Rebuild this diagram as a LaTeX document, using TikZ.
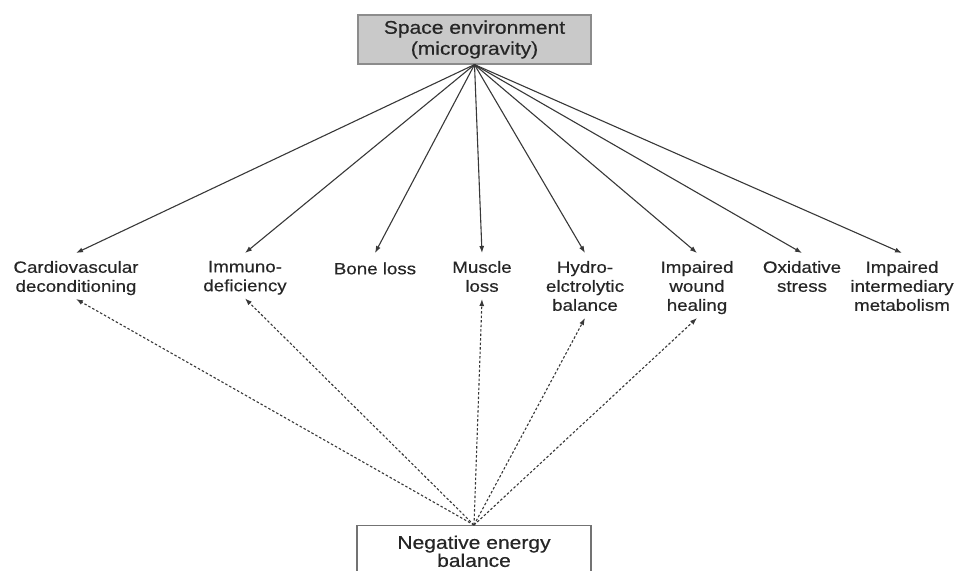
\documentclass[tikz,border=0pt]{standalone}
\usepackage{fontspec}
\setmainfont{Liberation Sans}[FakeStretch=1.15,FakeBold=0.5]
\usetikzlibrary{arrows.meta}
\tikzset{
  lab/.style={anchor=north, align=center, inner sep=0pt, outer sep=0pt, text=black!85,
    font=\fontsize{16.3}{19}\selectfont,
    execute at begin node=\strut, execute at end node=\strut},
  topbox/.style={draw=black!45, fill=black!21, line width=1.2pt, minimum width=233pt,
    minimum height=49pt, align=center, inner sep=0pt, text=black!85,
    font=\fontsize{18.3}{21}\selectfont},
  botbox/.style={draw=black!55, line width=1.1pt, minimum width=234pt, anchor=north,
    align=center, inner xsep=0pt, inner ysep=10pt, text=black!85,
    font=\fontsize{18.3}{17}\selectfont},
  solidarr/.style={draw=black!78, line width=1.1pt, -{Latex[length=7pt,width=5pt]}},
  dasharr/.style={draw=black!78, line width=1.1pt, dash pattern=on 2.5pt off 2pt,
    -{Latex[length=7pt,width=5pt]}}
}
\begin{document}
\begin{tikzpicture}[x=1pt,y=-1pt]
\useasboundingbox (0,0) rectangle (955,570);
\node[topbox] (top) at (474.5,39.5) {Space environment\\(microgravity)};
\node[botbox] (bot) at (474,525) {Negative energy\\balance};

\node[lab] (cardio) at (76,261) {Cardiovascular\\deconditioning};
\node[lab] (immuno) at (245,261) {Immuno-\\deficiency};
\node[lab] (bone)   at (375,261) {Bone loss};
\node[lab] (muscle) at (482,261) {Muscle\\loss};
\node[lab] (hydro)  at (585,261) {Hydro-\\elctrolytic\\balance};
\node[lab] (wound)  at (697,261) {Impaired\\wound\\healing};
\node[lab] (oxid)   at (802,261) {Oxidative\\stress};
\node[lab] (inter)  at (902,261) {Impaired\\intermediary\\metabolism};

\foreach \n in {cardio,immuno,bone,muscle,hydro,wound,oxid,inter}
  \draw[solidarr] (top.south) -- ([yshift=8pt]\n.north);
\foreach \n in {cardio,immuno,muscle,hydro,wound}
  \draw[dasharr] (bot.north) -- ([yshift=-1.5pt]\n.south);
\end{tikzpicture}
\end{document}
